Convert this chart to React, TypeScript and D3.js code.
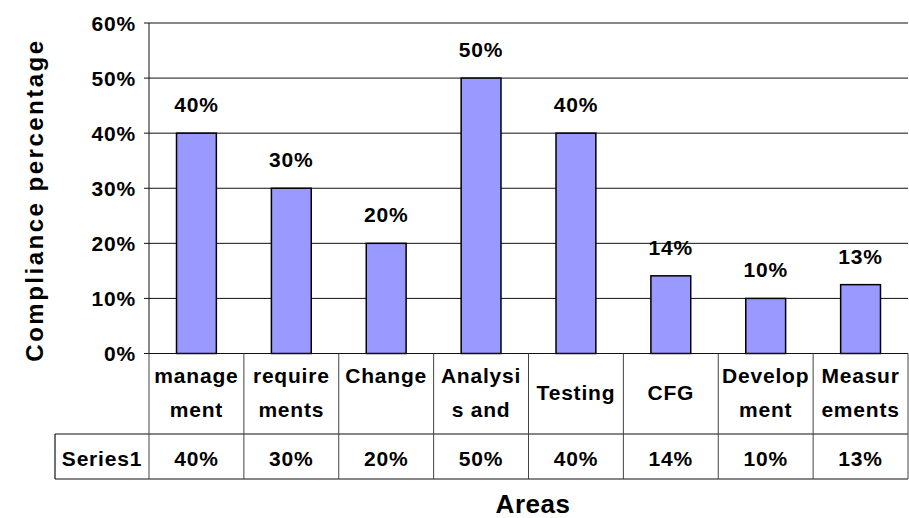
import React from "react";
import * as d3 from "d3";

const categoryLines: string[][] = [
  ["manage", "ment"],
  ["require", "ments"],
  ["Change", ""],
  ["Analysi", "s and"],
  ["Testing"],
  ["CFG"],
  ["Develop", "ment"],
  ["Measur", "ements"],
];
const categories = categoryLines.map((l, i) => `c${i}`);
const values: number[] = [40, 30, 20, 50, 40, 14.1, 10, 12.5];
const valueLabels: string[] = ["40%", "30%", "20%", "50%", "40%", "14%", "10%", "13%"];
const yTicks: number[] = [0, 10, 20, 30, 40, 50, 60];
const seriesName = "Series1";
const yTitle = "Compliance percentage";
const xTitle = "Areas";

const W = 909;
const H = 518;
const left = 149;
const right = 908;
const top = 23;
const zeroY = 353.5;
const catRowBottom = 434;
const tableBottom = 479;
const tableLeft = 55;

const FONT = "'Liberation Sans', Arial, sans-serif";

export default function App() {
  const y = d3.scaleLinear().domain([0, 60]).range([zeroY, top]);
  const cell = d3.scaleBand().domain(categories).range([left, right]).padding(0);
  const bar = d3
    .scaleBand()
    .domain(categories)
    .range([left, right])
    .paddingInner(0.58)
    .paddingOuter(0.29);
  const cw = cell.bandwidth();

  const txt = {
    fontFamily: FONT,
    fontWeight: 700 as const,
    fontSize: 21,
    letterSpacing: 0.8,
    fill: "#000",
  };

  return (
    <svg
      width={W}
      height={H}
      style={{ position: "absolute", left: 0, top: 0, background: "#fff" }}
    >
      <rect x={0} y={0} width={W} height={H} fill="#fff" />
      {/* gridlines & ticks */}
      {yTicks.map((t) => (
        <g key={t}>
          {t > 0 && (
            <line x1={left - 5} x2={right} y1={y(t)} y2={y(t)} stroke="#111" strokeWidth={1} />
          )}
          <text {...txt} x={136} y={y(t) + 7.5} textAnchor="end">
            {`${t}%`}
          </text>
        </g>
      ))}
      {/* y axis */}
      <line x1={left} x2={left} y1={top} y2={zeroY} stroke="#111" strokeWidth={1} />
      {/* bars */}
      {values.map((v, i) => (
        <rect
          key={i}
          x={bar(categories[i])!}
          width={bar.bandwidth()}
          y={y(v)}
          height={zeroY - y(v)}
          fill="#9999FF"
          stroke="#000"
          strokeWidth={1.5}
        />
      ))}
      {/* data labels */}
      {values.map((v, i) => (
        <text
          key={i}
          {...txt}
          x={bar(categories[i])! + bar.bandwidth() / 2}
          y={y(v) - 21}
          textAnchor="middle"
        >
          {valueLabels[i]}
        </text>
      ))}
      {/* table */}
      <line x1={left - 5} x2={right} y1={zeroY} y2={zeroY} stroke="#111" strokeWidth={1.2} />
      <line x1={tableLeft} x2={right} y1={catRowBottom} y2={catRowBottom} stroke="#111" strokeWidth={1.2} />
      <line x1={tableLeft} x2={right} y1={tableBottom} y2={tableBottom} stroke="#111" strokeWidth={1.2} />
      <line x1={tableLeft} x2={tableLeft} y1={catRowBottom} y2={tableBottom} stroke="#111" strokeWidth={1.2} />
      {categories.map((c) => (
        <line
          key={c}
          x1={cell(c)!}
          x2={cell(c)!}
          y1={zeroY}
          y2={tableBottom}
          stroke="#444"
          strokeWidth={1}
        />
      ))}
      <line x1={right} x2={right} y1={zeroY} y2={tableBottom} stroke="#444" strokeWidth={1} />
      {/* category labels */}
      {categoryLines.map((lines, i) => {
        const cx = cell(categories[i])! + cw / 2;
        if (lines.length === 1) {
          return (
            <text key={i} {...txt} x={cx} y={400} textAnchor="middle">
              {lines[0]}
            </text>
          );
        }
        return (
          <text key={i} {...txt} textAnchor="middle">
            {lines.map((l, j) => (
              <tspan key={j} x={cx} y={383 + j * 34}>
                {l}
              </tspan>
            ))}
          </text>
        );
      })}
      {/* series row */}
      <text {...txt} x={(tableLeft + left) / 2} y={466} textAnchor="middle">
        {seriesName}
      </text>
      {valueLabels.map((l, i) => (
        <text key={i} {...txt} x={cell(categories[i])! + cw / 2} y={466} textAnchor="middle">
          {l}
        </text>
      ))}
      {/* axis titles */}
      <text
        {...txt}
        fontSize={24}
        letterSpacing={2.5}
        transform={`translate(43, 200) rotate(-90)`}
        textAnchor="middle"
      >
        {yTitle}
      </text>
      <text {...txt} fontSize={26} letterSpacing={0.5} x={533} y={513} textAnchor="middle">
        {xTitle}
      </text>
    </svg>
  );
}
